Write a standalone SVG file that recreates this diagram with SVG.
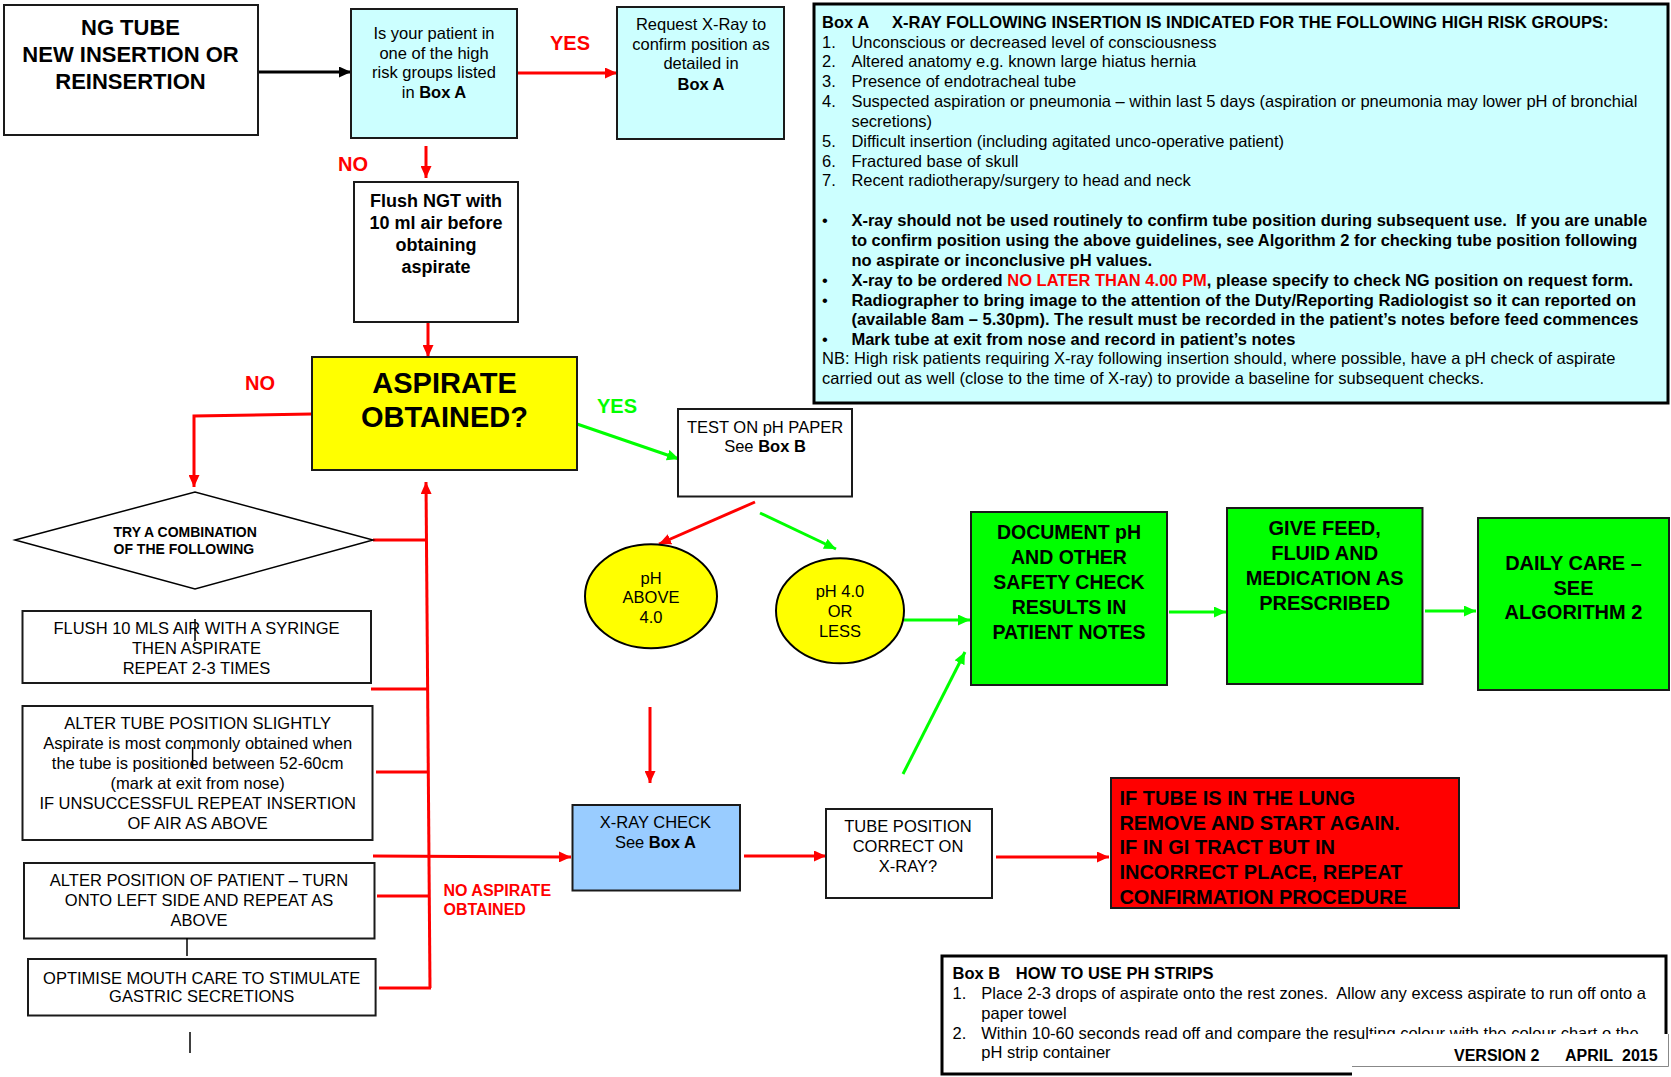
<svg xmlns="http://www.w3.org/2000/svg" width="1671" height="1077" viewBox="0 0 1671 1077">
<style>
text{font-family:"Liberation Sans",Arial,sans-serif;fill:#000;font-size:16.5px}
.c{text-anchor:middle}
.b{font-weight:bold}
.box{stroke:#1a1a1a;stroke-width:2}
.thick{stroke:#000;stroke-width:3}
.r{stroke:#f00;stroke-width:3;fill:none}
.g{stroke:#00ff00;stroke-width:3;fill:none}
.k{stroke:#000;stroke-width:3;fill:none}
.art{stroke:#000;stroke-width:1.5}
.red{fill:#f00}
.grn{fill:#00ff00}
</style>
<defs>
<marker id="ar" viewBox="0 0 12 11" refX="12" refY="5.5" markerWidth="12" markerHeight="11" markerUnits="userSpaceOnUse" orient="auto"><path d="M0,0 L12,5.5 L0,11 z" fill="#f00"/></marker>
<marker id="ag" viewBox="0 0 12 11" refX="12" refY="5.5" markerWidth="12" markerHeight="11" markerUnits="userSpaceOnUse" orient="auto"><path d="M0,0 L12,5.5 L0,11 z" fill="#00ff00"/></marker>
<marker id="ak" viewBox="0 0 12 11" refX="12" refY="5.5" markerWidth="12" markerHeight="11" markerUnits="userSpaceOnUse" orient="auto"><path d="M0,0 L12,5.5 L0,11 z" fill="#000"/></marker>
</defs>
<rect width="1671" height="1077" fill="#fff"/>

<g id="connectors">
<line class="k" x1="259" y1="72" x2="351" y2="72" marker-end="url(#ak)"/>
<line class="r" x1="517" y1="73" x2="617" y2="73" marker-end="url(#ar)"/>
<line class="r" x1="426" y1="146" x2="426" y2="178" marker-end="url(#ar)"/>
<line class="r" x1="428" y1="322" x2="428" y2="357" marker-end="url(#ar)"/>
<polyline class="r" points="312,414 194,416 194,487" marker-end="url(#ar)"/>
<line class="r" x1="430" y1="988" x2="426" y2="482" marker-end="url(#ar)"/>
<line class="r" x1="373" y1="540" x2="427" y2="540"/>
<line class="r" x1="371" y1="689" x2="428" y2="689"/>
<line class="r" x1="376" y1="772" x2="428" y2="772"/>
<line class="r" x1="377" y1="896" x2="429" y2="896"/>
<line class="r" x1="379" y1="988" x2="431" y2="988"/>
<line class="r" x1="373" y1="856" x2="571" y2="857" marker-end="url(#ar)"/>
<line class="g" x1="577" y1="424" x2="679" y2="459" marker-end="url(#ag)"/>
<line class="r" x1="755" y1="502" x2="659" y2="544" marker-end="url(#ar)"/>
<line class="g" x1="760" y1="513" x2="836" y2="549" marker-end="url(#ag)"/>
<line class="g" x1="904" y1="620" x2="970" y2="620" marker-end="url(#ag)"/>
<line class="g" x1="1169" y1="612" x2="1226" y2="612" marker-end="url(#ag)"/>
<line class="g" x1="1425" y1="611" x2="1476" y2="611" marker-end="url(#ag)"/>
<line class="g" x1="903" y1="774" x2="965" y2="652" marker-end="url(#ag)"/>
<line class="r" x1="650" y1="707" x2="650" y2="783" marker-end="url(#ar)"/>
<line class="r" x1="744" y1="856" x2="826" y2="856" marker-end="url(#ar)"/>
<line class="r" x1="996" y1="857" x2="1109" y2="857" marker-end="url(#ar)"/>
</g>

<g id="labels">
<text class="b red" x="550" y="50" style="font-size:20px">YES</text>
<text class="b red" x="338" y="171" style="font-size:20px">NO</text>
<text class="b red" x="245" y="390" style="font-size:20px">NO</text>
<text class="b grn" x="597" y="413" style="font-size:20px">YES</text>
<text class="b red" x="443.5" y="895.7" style="font-size:16px">NO ASPIRATE</text>
<text class="b red" x="443.5" y="915" style="font-size:16px">OBTAINED</text>
</g>

<g id="ng-tube">
<rect class="box" x="4" y="5" width="254" height="130" fill="#fff"/>
<text class="c b" x="130.5" y="35" style="font-size:22px">NG TUBE</text>
<text class="c b" x="130.5" y="62" style="font-size:22px">NEW INSERTION OR</text>
<text class="c b" x="130.5" y="89" style="font-size:22px">REINSERTION</text>
</g>

<g id="high-risk">
<rect class="box" x="351" y="9" width="166" height="129" fill="#ccffff"/>
<text class="c" x="434" y="39.3">Is your patient in</text>
<text class="c" x="434" y="58.7">one of the high</text>
<text class="c" x="434" y="78.3">risk groups listed</text>
<text class="c" x="434" y="97.7">in <tspan class="b">Box A</tspan></text>
</g>

<g id="request-xray">
<rect class="box" x="617" y="7" width="167" height="132" fill="#ccffff"/>
<text class="c" x="701" y="30">Request X-Ray to</text>
<text class="c" x="701" y="50">confirm position as</text>
<text class="c" x="701" y="69.3">detailed in</text>
<text class="c b" x="701" y="90">Box A</text>
</g>

<g id="box-a">
<rect class="thick" x="814" y="4" width="854" height="399" fill="#ccffff"/>
<text class="b" x="822" y="27.7">Box A</text>
<text class="b" x="892" y="27.7">X-RAY FOLLOWING INSERTION IS INDICATED FOR THE FOLLOWING HIGH RISK GROUPS:</text>
<text x="822" y="47.7">1.</text><text x="851.4" y="47.7">Unconscious or decreased level of consciousness</text>
<text x="822" y="66.7">2.</text><text x="851.4" y="66.7">Altered anatomy e.g. known large hiatus hernia</text>
<text x="822" y="86.7">3.</text><text x="851.4" y="86.7">Presence of endotracheal tube</text>
<text x="822" y="106.7">4.</text><text x="851.4" y="106.7">Suspected aspiration or pneumonia – within last 5 days (aspiration or pneumonia may lower pH of bronchial</text>
<text x="851.4" y="126.7">secretions)</text>
<text x="822" y="146.7">5.</text><text x="851.4" y="146.7">Difficult insertion (including agitated unco-operative patient)</text>
<text x="822" y="166.7">6.</text><text x="851.4" y="166.7">Fractured base of skull</text>
<text x="822" y="185.7">7.</text><text x="851.4" y="185.7">Recent radiotherapy/surgery to head and neck</text>
<text x="822" y="226">•</text><text class="b" x="851.4" y="226" xml:space="preserve">X-ray should not be used routinely to confirm tube position during subsequent use.  If you are unable</text>
<text class="b" x="851.4" y="246">to confirm position using the above guidelines, see Algorithm 2 for checking tube position following</text>
<text class="b" x="851.4" y="265.7">no aspirate or inconclusive pH values.</text>
<text x="822" y="286">•</text><text class="b" x="851.4" y="286">X-ray to be ordered <tspan class="red">NO LATER THAN 4.00 PM</tspan>, please specify to check NG position on request form.</text>
<text x="822" y="306">•</text><text class="b" x="851.4" y="306">Radiographer to bring image to the attention of the Duty/Reporting Radiologist so it can reported on</text>
<text class="b" x="851.4" y="325">(available 8am – 5.30pm). The result must be recorded in the patient’s notes before feed commences</text>
<text x="822" y="345">•</text><text class="b" x="851.4" y="345">Mark tube at exit from nose and record in patient’s notes</text>
<text x="822" y="364.3">NB: High risk patients requiring X-ray following insertion should, where possible, have a pH check of aspirate</text>
<text x="822" y="384.3">carried out as well (close to the time of X-ray) to provide a baseline for subsequent checks.</text>
</g>

<g id="flush-ngt">
<rect class="box" x="354" y="182" width="164" height="140" fill="#fff"/>
<text class="c b" x="436" y="207" style="font-size:18px">Flush NGT with</text>
<text class="c b" x="436" y="229" style="font-size:18px">10 ml air before</text>
<text class="c b" x="436" y="251" style="font-size:18px">obtaining</text>
<text class="c b" x="436" y="273" style="font-size:18px">aspirate</text>
</g>

<g id="aspirate-obtained">
<rect class="box" x="312" y="357" width="265" height="113" fill="#ffff00"/>
<text class="c b" x="444.5" y="393" style="font-size:29px">ASPIRATE</text>
<text class="c b" x="444.5" y="427" style="font-size:29px">OBTAINED?</text>
</g>

<g id="try-combination">
<polygon points="15,540 195,492 373,540 195,589" fill="#fff" stroke="#000" stroke-width="1.5"/>
<text class="b" x="113.5" y="537" style="font-size:14px">TRY A COMBINATION</text>
<text class="b" x="113.5" y="554" style="font-size:14px">OF THE FOLLOWING</text>
</g>

<g id="flush-air">
<rect class="box" x="22.5" y="611" width="348.5" height="72" fill="#fff"/>
<text class="c" x="196.5" y="634">FLUSH 10 MLS AIR WITH A SYRINGE</text>
<text class="c" x="196.5" y="654">THEN ASPIRATE</text>
<text class="c" x="196.5" y="674">REPEAT 2-3 TIMES</text>
<line class="art" x1="195" y1="619" x2="195" y2="641"/>
</g>

<g id="alter-tube">
<rect class="box" x="22.5" y="706" width="350" height="134" fill="#fff"/>
<text class="c" x="197.7" y="729.3">ALTER TUBE POSITION SLIGHTLY</text>
<text class="c" x="197.7" y="749.3">Aspirate is most commonly obtained when</text>
<text class="c" x="197.7" y="769.3">the tube is positioned between 52-60cm</text>
<text class="c" x="197.7" y="789">(mark at exit from nose)</text>
<text class="c" x="197.7" y="808.7">IF UNSUCCESSFUL REPEAT INSERTION</text>
<text class="c" x="197.7" y="828.7">OF AIR AS ABOVE</text>
<line class="art" x1="192.6" y1="747" x2="192.6" y2="768"/>
</g>

<g id="alter-patient">
<rect class="box" x="24" y="863" width="350.5" height="75.5" fill="#fff"/>
<text class="c" x="199" y="885.7">ALTER POSITION OF PATIENT – TURN</text>
<text class="c" x="199" y="905.7">ONTO LEFT SIDE AND REPEAT AS</text>
<text class="c" x="199" y="925.7">ABOVE</text>
</g>
<line class="art" x1="187" y1="938" x2="187" y2="956"/>

<g id="mouth-care">
<rect class="box" x="28" y="959" width="347.6" height="56.5" fill="#fff"/>
<text class="c" x="201.7" y="984">OPTIMISE MOUTH CARE TO STIMULATE</text>
<text class="c" x="201.7" y="1002.3">GASTRIC SECRETIONS</text>
</g>
<line class="art" x1="190" y1="1032" x2="190" y2="1053"/>

<g id="test-ph">
<rect class="box" x="678" y="409" width="174" height="87.5" fill="#fff"/>
<text class="c" x="765" y="432.7">TEST ON pH PAPER</text>
<text class="c" x="765" y="452.3">See <tspan class="b">Box B</tspan></text>
</g>

<g id="ph-above">
<ellipse cx="651" cy="596.3" rx="66" ry="52" fill="#ffff00" stroke="#000" stroke-width="2"/>
<text class="c" x="651" y="584">pH</text>
<text class="c" x="651" y="603.3">ABOVE</text>
<text class="c" x="651" y="622.7">4.0</text>
</g>

<g id="ph-below">
<ellipse cx="840" cy="610.8" rx="64" ry="52.5" fill="#ffff00" stroke="#000" stroke-width="2"/>
<text class="c" x="840" y="597.3">pH 4.0</text>
<text class="c" x="840" y="616.7">OR</text>
<text class="c" x="840" y="636.7">LESS</text>
</g>

<g id="document">
<rect class="box" x="971" y="512" width="196" height="173" fill="#00ff00"/>
<text class="c b" x="1069" y="539.3" style="font-size:19.5px">DOCUMENT pH</text>
<text class="c b" x="1069" y="564" style="font-size:19.5px">AND OTHER</text>
<text class="c b" x="1069" y="589" style="font-size:19.5px">SAFETY CHECK</text>
<text class="c b" x="1069" y="614" style="font-size:19.5px">RESULTS IN</text>
<text class="c b" x="1069" y="639.3" style="font-size:19.5px">PATIENT NOTES</text>
</g>

<g id="give-feed">
<rect class="box" x="1227" y="508" width="195.5" height="176" fill="#00ff00"/>
<text class="c b" x="1324.7" y="535" style="font-size:20px">GIVE FEED,</text>
<text class="c b" x="1324.7" y="560" style="font-size:20px">FLUID AND</text>
<text class="c b" x="1324.7" y="585" style="font-size:20px">MEDICATION AS</text>
<text class="c b" x="1324.7" y="610" style="font-size:20px">PRESCRIBED</text>
</g>

<g id="daily-care">
<rect class="box" x="1478" y="518" width="191" height="172" fill="#00ff00"/>
<text class="c b" x="1573.5" y="570" style="font-size:20px">DAILY CARE –</text>
<text class="c b" x="1573.5" y="595" style="font-size:20px">SEE</text>
<text class="c b" x="1573.5" y="619.3" style="font-size:20px">ALGORITHM 2</text>
</g>

<g id="xray-check">
<rect class="box" x="572.5" y="805" width="167.5" height="85.5" fill="#99ccff"/>
<text class="c" x="655.4" y="828.3">X-RAY CHECK</text>
<text class="c" x="655.4" y="848.3">See <tspan class="b">Box A</tspan></text>
</g>

<g id="tube-position">
<rect class="box" x="826" y="809" width="166" height="89" fill="#fff"/>
<text class="c" x="908" y="832.3">TUBE POSITION</text>
<text class="c" x="908" y="851.7">CORRECT ON</text>
<text class="c" x="908" y="871.7">X-RAY?</text>
</g>

<g id="lung">
<rect class="box" x="1111" y="778" width="348" height="130" fill="#ff0000"/>
<text class="b" x="1119.4" y="805" style="font-size:20px">IF TUBE IS IN THE LUNG</text>
<text class="b" x="1119.4" y="829.5" style="font-size:20px">REMOVE AND START AGAIN.</text>
<text class="b" x="1119.4" y="854.3" style="font-size:20px">IF IN GI TRACT BUT IN</text>
<text class="b" x="1119.4" y="879" style="font-size:20px">INCORRECT PLACE, REPEAT</text>
<text class="b" x="1119.4" y="904" style="font-size:20px">CONFIRMATION PROCEDURE</text>
</g>

<g id="box-b">
<rect class="thick" x="942" y="956" width="724" height="118" fill="#fff"/>
<text class="b" x="952.6" y="979.3">Box B</text>
<text class="b" x="1015.8" y="979.3">HOW TO USE PH STRIPS</text>
<text x="952.6" y="999.3">1.</text><text x="981.3" y="999.3" xml:space="preserve">Place 2-3 drops of aspirate onto the rest zones.  Allow any excess aspirate to run off onto a</text>
<text x="981.3" y="1019">paper towel</text>
<text x="952.6" y="1038.7">2.</text><text x="981.3" y="1038.7">Within 10-60 seconds read off and compare the resulting colour with the colour chart o the</text>
<text x="981.3" y="1058.3">pH strip container</text>
<path d="M1368,1034 H1671 V1077 H1352 V1040 H1368 Z" fill="#fff"/>
<path d="M1352,1066.5 H1668.5 V1034" fill="none" stroke="#888" stroke-width="1"/>
<text class="b" x="1454" y="1061" style="font-size:16px">VERSION 2</text>
<text class="b" x="1565" y="1061" style="font-size:16px">APRIL</text>
<text class="b" x="1622" y="1061" style="font-size:16px">2015</text>
</g>
</svg>
